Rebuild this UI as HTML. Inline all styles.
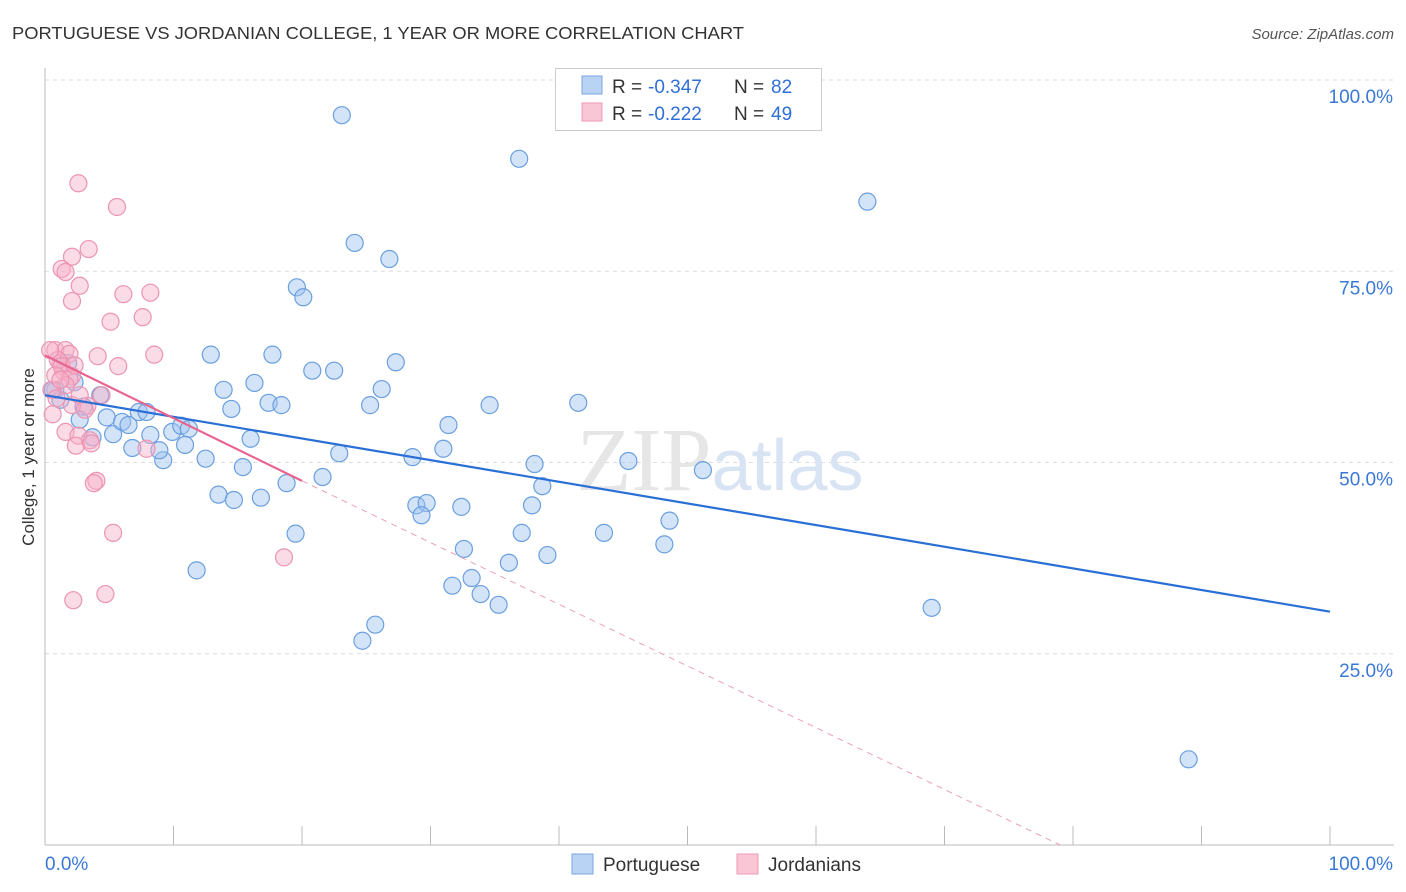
<!DOCTYPE html>
<html><head><meta charset="utf-8"><style>
body{margin:0;background:#fff;font-family:"Liberation Sans",sans-serif}
svg{display:block}
</style></head><body>
<svg id="chart" width="1406" height="892" viewBox="0 0 1406 892" xmlns="http://www.w3.org/2000/svg">
<text x="12" y="39" font-size="17.5" fill="#333" textLength="732" lengthAdjust="spacingAndGlyphs">PORTUGUESE VS JORDANIAN COLLEGE, 1 YEAR OR MORE CORRELATION CHART</text>
<text x="1394" y="39" font-size="15" fill="#555" font-style="italic" text-anchor="end">Source: ZipAtlas.com</text>
<g id="grid"></g>
<text x="720" y="490" font-size="90" text-anchor="middle" fill="#e6e6e6" font-family="Liberation Serif,serif">ZIP<tspan fill="#d8e4f4" font-family="Liberation Sans,sans-serif" font-size="72">atlas</tspan></text>
<g id="axes"></g>
<g id="marks"></g>
<g id="trends"></g>
<text transform="translate(34,457) rotate(-90)" font-size="17" fill="#333" text-anchor="middle">College, 1 year or more</text>
<g>
<rect x="555.5" y="68.5" width="266" height="62" fill="#fff" stroke="#ccc"/>
<rect x="582" y="76" width="20" height="18" fill="#b9d3f5" stroke="#7aa7e0"/>
<rect x="582" y="103" width="20" height="18" fill="#f9c6d6" stroke="#ee9ab5"/>
<text x="612" y="93" font-size="19" fill="#333">R =</text>
<text x="648" y="93" font-size="19" fill="#2f6fd8">-0.347</text>
<text x="734" y="93" font-size="19" fill="#333">N =</text>
<text x="771" y="93" font-size="19" fill="#2f6fd8">82</text>
<text x="612" y="120" font-size="19" fill="#333">R =</text>
<text x="648" y="120" font-size="19" fill="#2f6fd8">-0.222</text>
<text x="734" y="120" font-size="19" fill="#333">N =</text>
<text x="771" y="120" font-size="19" fill="#2f6fd8">49</text>
</g>
<g>
<rect x="572" y="854" width="21" height="20" fill="#b9d3f5" stroke="#7aa7e0"/>
<text x="603" y="871" font-size="19" fill="#333">Portuguese</text>
<rect x="737" y="854" width="21" height="20" fill="#f9c6d6" stroke="#ee9ab5"/>
<text x="768" y="871" font-size="19" fill="#333">Jordanians</text>
</g>
</svg>
<script>
const yTicks=[25,50,75,100];
const yTickLabels=["25.0%","50.0%","75.0%","100.0%"];
const xTicks=[0,10,20,30,40,50,60,70,80,90,100];
const blueX=[23.1,36.9,64.0,24.1,26.8,19.6,20.1,12.9,17.7,27.3,20.8,22.5,26.2,16.3,13.9,17.4,18.4,14.5,25.3,34.6,41.5,31.4,31.0,16.0,22.9,28.6,12.5,15.4,9.2,45.4,38.1,51.2,21.6,18.8,38.7,13.5,14.7,16.8,28.9,29.7,29.3,32.4,37.9,48.6,19.5,37.1,43.5,32.6,48.2,39.1,36.1,11.8,33.2,31.7,33.9,35.3,69.0,25.7,24.7,89.0,0.8,1.8,2.3,3.0,2.7,4.3,4.8,5.3,6.0,6.5,7.3,7.9,8.2,6.8,8.9,9.9,10.6,11.2,10.9,3.7,1.2,0.6];
const blueY=[95.4,89.7,84.1,78.7,76.6,72.9,71.6,64.1,64.1,63.1,62.0,62.0,59.6,60.4,59.5,57.8,57.5,57.0,57.5,57.5,57.8,54.9,51.8,53.1,51.2,50.7,50.5,49.4,50.3,50.2,49.8,49.0,48.1,47.3,46.9,45.8,45.1,45.4,44.4,44.7,43.1,44.2,44.4,42.4,40.7,40.8,40.8,38.7,39.3,37.9,36.9,35.9,34.9,33.9,32.8,31.4,31.0,28.8,26.7,11.2,59.5,63.0,60.5,57.3,55.6,58.8,55.9,53.7,55.3,54.9,56.6,56.6,53.6,51.9,51.6,54.0,54.8,54.4,52.3,53.3,58.2,59.5];
const pinkX=[2.6,5.6,3.4,2.1,1.3,1.6,2.7,6.1,8.2,2.1,7.6,5.1,0.8,1.6,1.9,4.1,8.5,5.7,1.2,1.4,2.1,0.5,0.9,4.4,3.3,2.1,0.6,1.6,2.6,3.5,7.9,2.4,3.6,4.0,3.8,5.3,18.6,4.7,2.2,1.0,0.4,1.3,2.7,1.9,3.1,1.6,0.8,2.3,1.2];
const pinkY=[86.5,83.4,77.9,76.9,75.3,74.9,73.1,72.0,72.2,71.1,69.0,68.4,64.7,64.7,64.2,63.9,64.1,62.6,63.0,62.0,61.3,59.5,58.4,58.8,57.4,57.5,56.3,54.0,53.5,52.9,51.8,52.2,52.5,47.6,47.3,40.8,37.6,32.8,32.0,63.4,64.7,62.6,58.8,60.9,56.9,60.1,61.4,62.7,60.8];
const blueTrend=[[0,58.8],[100,30.5]];
const pinkTrend=[[0,64.0],[20,47.6]];
const pinkDash=[[20,47.6],[79,0]];
const X0=45,X1=1330,Y0=845,Y100=80;
const sx=v=>X0+(X1-X0)*v/100, sy=v=>Y0-(Y0-Y100)*v/100;
const NS="http://www.w3.org/2000/svg";
function mk(t,a,p){const e=document.createElementNS(NS,t);for(const k in a)e.setAttribute(k,a[k]);p.appendChild(e);return e;}
const grid=document.getElementById('grid'),axes=document.getElementById('axes'),marks=document.getElementById('marks'),trends=document.getElementById('trends');
yTicks.forEach((v,i)=>{const l=mk('line',{x1:X0,x2:1394,y1:sy(v),y2:sy(v),stroke:'#ddd','stroke-dasharray':'4 4'},grid);


const t=mk('text',{x:1393,y:sy(v)+23,'font-size':19,fill:'#3a78d8','text-anchor':'end'},axes);t.textContent=yTickLabels[i];

});
mk('line',{x1:X0,x2:X0,y1:68,y2:Y0,stroke:'#bbb'},axes);
mk('line',{x1:X0,x2:1394,y1:Y0,y2:Y0,stroke:'#bbb'},axes);
xTicks.forEach(v=>{const l=mk('line',{x1:sx(v),x2:sx(v),y1:826,y2:Y0,stroke:'#bbb'},axes);

});
const xl=mk('text',{x:45,y:870,'font-size':19,fill:'#3a78d8'},axes);xl.textContent='0.0%';
const xr=mk('text',{x:1393,y:870,'font-size':19,fill:'#3a78d8','text-anchor':'end'},axes);xr.textContent='100.0%';
blueX.forEach((x,i)=>{const c=mk('circle',{cx:sx(x),cy:sy(blueY[i]),r:8.5,fill:'rgba(160,196,240,0.45)',stroke:'#6a9fe0','stroke-width':1.2},marks);

});
pinkX.forEach((x,i)=>{const c=mk('circle',{cx:sx(x),cy:sy(pinkY[i]),r:8.5,fill:'rgba(246,176,200,0.45)',stroke:'#ec94b2','stroke-width':1.2},marks);

});
const b=mk('line',{x1:sx(blueTrend[0][0]),y1:sy(blueTrend[0][1]),x2:sx(blueTrend[1][0]),y2:sy(blueTrend[1][1]),stroke:'#2a6fd6','stroke-width':2.2},trends);


const p=mk('line',{x1:sx(pinkTrend[0][0]),y1:sy(pinkTrend[0][1]),x2:sx(pinkTrend[1][0]),y2:sy(pinkTrend[1][1]),stroke:'#e8648f','stroke-width':2.2},trends);


const d=mk('line',{x1:sx(pinkDash[0][0]),y1:sy(pinkDash[0][1]),x2:sx(pinkDash[1][0]),y2:sy(pinkDash[1][1]),stroke:'#eaa0b8','stroke-width':1,'stroke-dasharray':'6 5'},trends);


</script>
</body></html>
